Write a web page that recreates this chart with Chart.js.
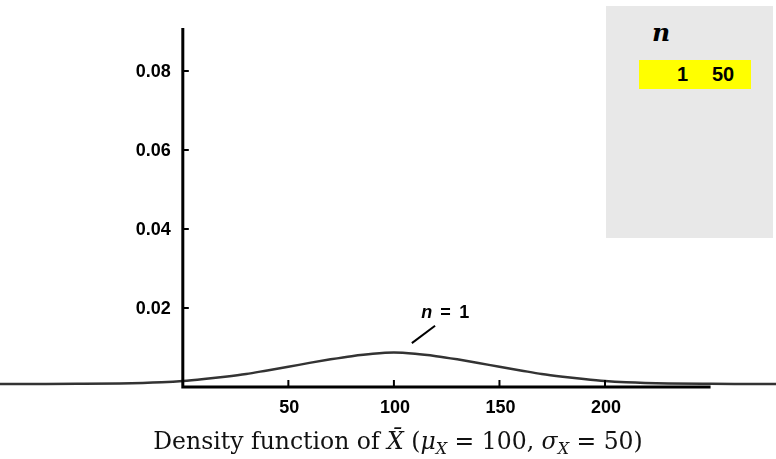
<!DOCTYPE html>
<html>
<head>
<meta charset="utf-8">
<script src="https://cdn.jsdelivr.net/npm/chart.js@4"></script>
<style>
  body { margin: 0; background: #fff; }
  #wrap { position: relative; width: 776px; height: 459px; }
  #legendBox {
    position: absolute; left: 606px; top: 6px; width: 167px; height: 232px;
    background: #e8e8e8;
  }
  #legendBox .n {
    position: absolute; left: 46px; top: 12px;
    font: bold italic 25px "DejaVu Serif", serif;
  }
  #legendBox .row {
    position: absolute; left: 33px; top: 54px; width: 112px; height: 29px;
    background: #ffff00; font: bold 20px "Liberation Sans", Arial, sans-serif;
  }
  #legendBox .row span { position: absolute; top: 3px; }
  #title {
    position: absolute; left: 10px; top: 427px; width: 776px; text-align: center;
    font: 23.5px "DejaVu Serif", serif; color: #111;
  }
  #title i { font-style: italic; }
  #title sub { font-size: 16px; vertical-align: -5px; line-height: 0; }
</style>
</head>
<body>
<div id="wrap">
  <canvas id="density" width="776" height="459"></canvas>
  <div id="legendBox">
    <div class="n">n</div>
    <div class="row"><span style="left:38px">1</span><span style="left:73px">50</span></div>
  </div>
  <div id="title">Density function of <i>X&#772;</i> (<i>&mu;<sub>X</sub></i> = 100, <i>&sigma;<sub>X</sub></i> = 50)</div>
</div>
<script>
// values
const xValues = [-90, -70, -50, -30, -10, 0, 10, 20, 30, 40, 50, 60, 70, 80, 90, 100,
                 110, 120, 130, 140, 150, 160, 170, 180, 190, 200, 210, 230, 250, 270, 290];
const densityN1 = [0.00075, 0.00077, 0.0008, 0.0009, 0.0012, 0.0015, 0.0020, 0.0026, 0.0033,
                   0.0042, 0.0051, 0.0061, 0.0070, 0.0078, 0.0084, 0.0087,
                   0.0084, 0.0078, 0.0070, 0.0061, 0.0051, 0.0042, 0.0033, 0.0026, 0.0020,
                   0.0015, 0.0012, 0.0009, 0.0008, 0.00077, 0.00075];
const xTicks = [50, 100, 150, 200];
const yTicks = [0.02, 0.04, 0.06, 0.08];

const points = xValues.map((x, i) => ({x: x, y: densityN1[i]}));

// draws the axes by hand so they can stop where the original stops
const axesPlugin = {
  id: 'axesPlugin',
  afterDatasetsDraw(chart) {
    const ctx = chart.ctx;
    const xs = chart.scales.x, ys = chart.scales.y;
    const x0 = xs.getPixelForValue(0);
    const axisY = ys.getPixelForValue(0);
    ctx.save();
    ctx.strokeStyle = '#000';
    ctx.lineWidth = 3;
    ctx.beginPath();
    ctx.moveTo(x0, ys.getPixelForValue(0.0909));
    ctx.lineTo(x0, axisY + 1.5);
    ctx.moveTo(x0, axisY);
    ctx.lineTo(xs.getPixelForValue(250), axisY);
    ctx.stroke();

    ctx.lineWidth = 2;
    ctx.fillStyle = '#000';
    ctx.font = 'bold 18px "Liberation Sans", Arial, sans-serif';
    ctx.textBaseline = 'middle';
    ctx.textAlign = 'center';
    xTicks.forEach(t => {
      const px = xs.getPixelForValue(t);
      ctx.beginPath();
      ctx.moveTo(px, axisY);
      ctx.lineTo(px, axisY - 7);
      ctx.stroke();
      ctx.fillText(String(t), px + 1, axisY + 21);
    });
    ctx.textAlign = 'right';
    yTicks.forEach(t => {
      const py = ys.getPixelForValue(t);
      ctx.beginPath();
      ctx.moveTo(x0, py);
      ctx.lineTo(x0 + 6, py);
      ctx.stroke();
      ctx.fillText(t.toFixed(2), x0 - 12, py + 1);
    });

    // curve label with leader line
    ctx.lineWidth = 2;
    ctx.beginPath();
    ctx.moveTo(xs.getPixelForValue(108.5), ys.getPixelForValue(0.0111));
    ctx.lineTo(xs.getPixelForValue(119.5), ys.getPixelForValue(0.0155));
    ctx.stroke();
    ctx.textAlign = 'left';
    ctx.font = 'bold italic 18px "Liberation Sans", Arial, sans-serif';
    const lx = xs.getPixelForValue(113), ly = ys.getPixelForValue(0.0188);
    ctx.fillText('n', lx, ly);
    ctx.font = 'bold 18px "Liberation Sans", Arial, sans-serif';
    ctx.fillText('=', lx + 19, ly);
    ctx.fillText('1', lx + 38, ly);
    ctx.restore();
  }
};

new Chart(document.getElementById('density'), {
  type: 'line',
  data: {
    datasets: [{
      label: 'n = 1',
      data: points,
      borderColor: '#333333',
      borderWidth: 2.5,
      pointRadius: 0,
      fill: false,
      cubicInterpolationMode: 'monotone'
    }]
  },
  options: {
    responsive: false,
    animation: false,
    layout: { padding: 0 },
    plugins: { legend: { display: false }, tooltip: { enabled: false } },
    scales: {
      x: { type: 'linear', min: -86.6, max: 281, display: false },
      y: { min: -0.01823, max: 0.09797, display: false }
    }
  },
  plugins: [axesPlugin]
});
</script>
</body>
</html>
